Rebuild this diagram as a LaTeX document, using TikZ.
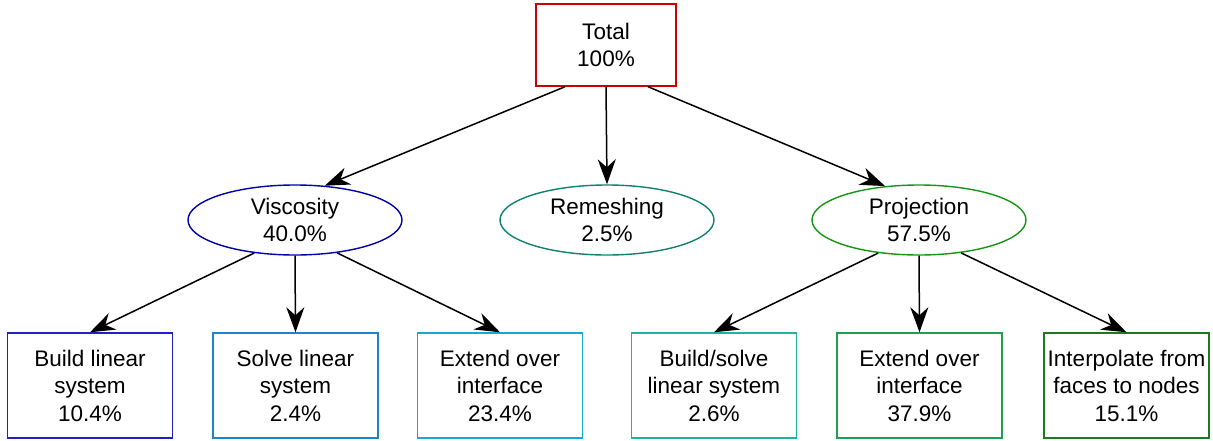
\documentclass[tikz,border=0pt]{standalone}
\usepackage{fontspec}
\setmainfont{Liberation Sans}
\usetikzlibrary{shapes.geometric,arrows.meta}

\definecolor{cTotal}{RGB}{204,0,0}
\definecolor{cVisc}{RGB}{0,0,170}
\definecolor{cRemesh}{RGB}{16,128,112}
\definecolor{cProj}{RGB}{20,150,20}
\definecolor{cBuild}{RGB}{32,32,200}
\definecolor{cSolve}{RGB}{30,130,210}
\definecolor{cExtV}{RGB}{20,170,210}
\definecolor{cBuildSolve}{RGB}{30,180,160}
\definecolor{cExtP}{RGB}{30,160,80}
\definecolor{cInterp}{RGB}{30,120,30}

\tikzset{
  lbl/.style={font=\fontsize{22.5}{27.5}\selectfont, align=center, text=black},
  taskbox/.style={lbl, draw, rectangle, line width=1.4pt, inner sep=0pt,
    minimum width=165pt, minimum height=105pt},
  phase/.style={lbl, draw, ellipse, line width=1.4pt, inner sep=0pt,
    minimum width=214pt, minimum height=70pt},
  link/.style={line width=1.5pt, -{Stealth[length=25pt, width=18pt, inset=8pt]}}
}

\begin{document}
\begin{tikzpicture}[x=1pt, y=-1pt]
  \useasboundingbox (0,0) rectangle (1213,440);

  % root
  \node[lbl, draw=cTotal, rectangle, line width=1.4pt, inner sep=0pt,
        minimum width=140pt, minimum height=82pt] (tot) at (606,45) {Total\\100\%};

  % phases
  \node[phase, draw=cVisc]   (vis) at (295,220) {Viscosity\\40.0\%};
  \node[phase, draw=cRemesh] (rem) at (607,220) {Remeshing\\2.5\%};
  \node[phase, draw=cProj]   (pro) at (919,220) {Projection\\57.5\%};

  % tasks
  \node[taskbox, draw=cBuild]      (b1) at (90,385.5)    {Build linear\\system\\10.4\%};
  \node[taskbox, draw=cSolve]      (b2) at (295.5,385.5) {Solve linear\\system\\2.4\%};
  \node[taskbox, draw=cExtV]       (b3) at (500,385.5)   {Extend over\\interface\\23.4\%};
  \node[taskbox, draw=cBuildSolve] (b4) at (714,385.5)   {Build/solve\\linear system\\2.6\%};
  \node[taskbox, draw=cExtP]       (b5) at (919.5,385.5) {Extend over\\interface\\37.9\%};
  \node[taskbox, draw=cInterp]     (b6) at (1126.5,385.5){Interpolate from\\faces to nodes\\15.1\%};

  % connectors
  \draw[link] ([xshift=-41pt]tot.south) -- (vis.49);
  \draw[link] (tot.south) -- (rem.north);
  \draw[link] ([xshift=42pt]tot.south) -- (pro.135);

  \draw[link] (vis.219) -- (b1.north);
  \draw[link] (vis.south) -- (b2.north);
  \draw[link] (vis.322) -- (b3.north);

  \draw[link] (pro.219) -- (b4.north);
  \draw[link] (pro.south) -- (b5.north);
  \draw[link] (pro.322) -- (b6.north);
\end{tikzpicture}
\end{document}
